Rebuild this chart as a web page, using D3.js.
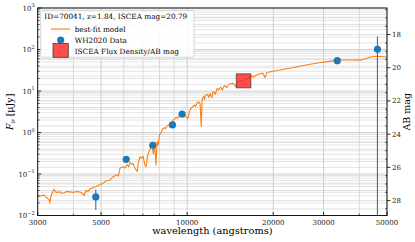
<!DOCTYPE html>
<html>
<head>
<meta charset="utf-8">
<script src="https://cdn.jsdelivr.net/npm/d3@7"></script>
<style>
  body { margin: 0; background: #fff; }
  svg { display: block; font-family: "DejaVu Serif", serif; }
</style>
</head>
<body>
<div id="chart"></div>
<script>
// best-fit model SED (wavelength in angstroms, flux in uJy)
const modelWave = [3000, 3080, 3156, 3220, 3286, 3310, 3339, 3421, 3480, 3592, 3650, 3700, 3780, 3891, 4000,
  4100, 4218, 4300, 4359, 4420, 4500, 4573, 4700, 4800, 4950, 5079, 5200, 5373, 5500, 5641, 5750, 5824,
  5968, 6060, 6163, 6240, 6313, 6400, 6469, 6560, 6679, 6760, 6842, 6930, 7011, 7100, 7183, 7270, 7360,
  7450, 7538, 7620, 7700, 7780, 7850, 7913, 8010, 8107, 8200, 8306, 8400, 8509, 8610, 8718, 8820, 8932,
  9040, 9151, 9260, 9375, 9490, 9605, 9720, 9842, 10000, 10081, 10200, 10327, 10450, 10580, 10700, 10840,
  10970, 11101, 11200, 11283, 11420, 11500, 11560, 11700, 11800, 11900, 12031, 12200, 12300, 12400, 12550,
  12729, 12900, 13100, 13290, 13400, 13575, 13750, 14000, 14200, 14483, 14800, 15000, 15324, 16000, 16879,
  17100, 17400, 17700, 18003, 18400, 18747, 19000, 19995, 21159, 23493, 25000, 26943, 29000, 30900, 33000,
  35167, 37500, 40326, 42000, 43712, 46238, 48539, 50000];
const modelFlux = [0.028, 0.030, 0.031, 0.027, 0.024, 0.020, 0.030, 0.043, 0.036, 0.037, 0.034, 0.035, 0.038,
  0.037, 0.036, 0.038, 0.037, 0.034, 0.030, 0.040, 0.038, 0.044, 0.047, 0.050, 0.055, 0.061, 0.068, 0.072,
  0.085, 0.095, 0.090, 0.14, 0.15, 0.14, 0.17, 0.15, 0.19, 0.17, 0.18, 0.14, 0.115, 0.20, 0.26, 0.24, 0.27,
  0.17, 0.15, 0.28, 0.35, 0.42, 0.46, 0.30, 0.55, 0.165, 0.60, 0.50, 0.90, 1.0, 1.2, 1.3, 1.25, 1.45, 1.5,
  1.6, 1.5, 2.0, 2.1, 2.3, 2.2, 2.5, 2.7, 2.9, 2.8, 2.6, 2.2, 2.3, 3.3, 3.9, 4.1, 4.6, 4.2, 5.2, 5.5, 4.8,
  1.4, 6.5, 7.3, 6.2, 7.8, 8.1, 8.3, 6.9, 8.7, 7.0, 9.3, 9.5, 8.4, 11.6, 10.6, 12.5, 10.5, 12.8, 13.5, 12.0,
  14.5, 15.0, 15.3, 12.8, 16.3, 17, 19, 23, 21.5, 24, 25, 26, 27, 21, 28, 30, 32, 37, 40, 44, 48, 51, 54,
  56, 56, 55.5, 60, 66, 69, 67, 65];

// WH2020 photometry
const dataWave = [4790, 6120, 7580, 8880, 9600, 33500, 46300];
const dataFlux = [0.028, 0.226, 0.49, 1.52, 2.79, 53.7, 101];
const dataErr = [0.0145, 0.02, 0.03, 0.08, 0.15, 3, 106];

// ISCEA point
const isceaWave = [15750];
const isceaMag = [20.79];

const xTicks = [3000, 5000, 10000, 20000, 30000, 50000];
const xMinorTicks = [4000, 6000, 7000, 8000, 9000, 40000];
const yTickExp = [-2, -1, 0, 1, 2, 3];
const magTicks = [18, 20, 22, 24, 26, 28];
const legendTitle = 'ID=70041, z=1.84, ISCEA mag=20.79';

const W = 415, H = 242;
const m = { left: 37.7, right: 387, top: 8, bottom: 215.5 };

const abToUJy = v => Math.pow(10, (23.9 - v) / 2.5);
const uJyToAb = f => 23.9 - 2.5 * Math.log10(f);

const x = d3.scaleLog().domain([3000, 50000]).range([m.left, m.right]);
const y = d3.scaleLog().domain([1e-2, 1e3]).range([m.bottom, m.top]);
const mag = d3.scaleLinear().domain([uJyToAb(1e-2), uJyToAb(1e3)]).range([m.bottom, m.top]);

const svg = d3.select('#chart').append('svg')
  .attr('width', W).attr('height', H);

svg.append('defs').append('clipPath').attr('id', 'plotClip')
  .append('rect').attr('x', m.left).attr('y', m.top)
  .attr('width', m.right - m.left).attr('height', m.bottom - m.top);

const grid = svg.append('g').attr('class', 'grid');

// horizontal grid: log minor ticks on the flux axis
const yMinor = [];
for (let e = -2; e < 3; e++) {
  for (let k = 2; k <= 9; k++) yMinor.push(k * Math.pow(10, e));
}
grid.selectAll('line.ymin').data(yMinor).enter().append('line')
  .attr('x1', m.left).attr('x2', m.right)
  .attr('y1', d => y(d)).attr('y2', d => y(d))
  .attr('stroke', '#dcdcdc').attr('stroke-width', 0.8);

// horizontal grid from the magnitude axis (every 0.5 mag)
const magGrid = d3.range(17, 28.9, 0.5);
grid.selectAll('line.mag').data(magGrid).enter().append('line')
  .attr('x1', m.left).attr('x2', m.right)
  .attr('y1', d => mag(d)).attr('y2', d => mag(d))
  .attr('stroke', '#dcdcdc').attr('stroke-width', 0.8);

grid.selectAll('line.ymaj').data(yTickExp).enter().append('line')
  .attr('x1', m.left).attr('x2', m.right)
  .attr('y1', d => y(Math.pow(10, d))).attr('y2', d => y(Math.pow(10, d)))
  .attr('stroke', '#c4c4c4').attr('stroke-width', 0.8);

grid.selectAll('line.xmin').data(xMinorTicks).enter().append('line')
  .attr('x1', d => x(d)).attr('x2', d => x(d))
  .attr('y1', m.top).attr('y2', m.bottom)
  .attr('stroke', '#d0d0d0').attr('stroke-width', 0.8);
grid.selectAll('line.xmaj').data(xTicks).enter().append('line')
  .attr('x1', d => x(d)).attr('x2', d => x(d))
  .attr('y1', m.top).attr('y2', m.bottom)
  .attr('stroke', '#c4c4c4').attr('stroke-width', 0.8);

const plot = svg.append('g').attr('clip-path', 'url(#plotClip)');

// model curve
const model = modelWave.map((w, i) => [w, modelFlux[i]]);
plot.append('path')
  .datum(model)
  .attr('fill', 'none')
  .attr('stroke', '#ff7f0e')
  .attr('stroke-width', 1.1)
  .attr('stroke-linejoin', 'round')
  .attr('d', d3.line().x(d => x(d[0])).y(d => y(d[1])));

// error bars
const pts = dataWave.map((w, i) => ({ w, f: dataFlux[i], e: dataErr[i] }));
plot.selectAll('line.err').data(pts).enter().append('line')
  .attr('x1', d => x(d.w)).attr('x2', d => x(d.w))
  .attr('y1', d => y(d.f + d.e))
  .attr('y2', d => (d.f - d.e) > 0 ? y(d.f - d.e) : m.bottom + 5)
  .attr('stroke', '#1f77b4').attr('stroke-width', 1.1);

plot.selectAll('circle.pt').data(pts).enter().append('circle')
  .attr('cx', d => x(d.w)).attr('cy', d => y(d.f))
  .attr('r', 3.6).attr('fill', '#1f77b4');

// ISCEA square
const iscea = isceaWave.map((w, i) => ({ w, f: abToUJy(isceaMag[i]) }));
plot.selectAll('rect.iscea').data(iscea).enter().append('rect')
  .attr('x', d => x(d.w) - 7.3).attr('y', d => y(d.f) - 7)
  .attr('width', 14.6).attr('height', 14)
  .attr('fill', '#ff2020').attr('fill-opacity', 0.8)
  .attr('stroke', '#444').attr('stroke-width', 0.8);

// frame
svg.append('rect').attr('x', m.left).attr('y', m.top)
  .attr('width', m.right - m.left).attr('height', m.bottom - m.top)
  .attr('fill', 'none').attr('stroke', '#000').attr('stroke-width', 0.9);

// x ticks
const axisG = svg.append('g');
axisG.selectAll('line.xt').data(xTicks).enter().append('line')
  .attr('x1', d => x(d)).attr('x2', d => x(d))
  .attr('y1', m.bottom).attr('y2', m.bottom - 3.5)
  .attr('stroke', '#000').attr('stroke-width', 0.8);
axisG.selectAll('line.xtm').data(xMinorTicks).enter().append('line')
  .attr('x1', d => x(d)).attr('x2', d => x(d))
  .attr('y1', m.bottom).attr('y2', m.bottom - 2)
  .attr('stroke', '#000').attr('stroke-width', 0.6);
axisG.selectAll('text.xl').data(xTicks).enter().append('text')
  .attr('x', d => x(d)).attr('y', m.bottom + 9)
  .attr('text-anchor', 'middle').attr('font-size', 7).attr('fill', '#222')
  .text(d => d);

// y ticks (flux)
axisG.selectAll('line.yt').data(yTickExp).enter().append('line')
  .attr('x1', m.left).attr('x2', m.left + 3.5)
  .attr('y1', d => y(Math.pow(10, d))).attr('y2', d => y(Math.pow(10, d)))
  .attr('stroke', '#000').attr('stroke-width', 0.8);
axisG.selectAll('line.ytm').data(yMinor).enter().append('line')
  .attr('x1', m.left).attr('x2', m.left + 2)
  .attr('y1', d => y(d)).attr('y2', d => y(d))
  .attr('stroke', '#000').attr('stroke-width', 0.6);
const yl = axisG.selectAll('text.yl').data(yTickExp).enter().append('text')
  .attr('x', m.left - 3).attr('y', d => y(Math.pow(10, d)) + 2.5)
  .attr('text-anchor', 'end').attr('font-size', 7).attr('fill', '#222');
yl.append('tspan').text('10');
yl.append('tspan').attr('dy', -3.5).attr('font-size', 5)
  .text(d => d < 0 ? '\u2212' + Math.abs(d) : d);

// right mag axis
const magMinor = d3.range(16.5, 28.9, 0.5).filter(v => !magTicks.includes(v));
axisG.selectAll('line.mt').data(magTicks).enter().append('line')
  .attr('x1', m.right).attr('x2', m.right + 3.5)
  .attr('y1', d => mag(d)).attr('y2', d => mag(d))
  .attr('stroke', '#000').attr('stroke-width', 0.8);
axisG.selectAll('line.mtm').data(magMinor).enter().append('line')
  .attr('x1', m.right - 2).attr('x2', m.right)
  .attr('y1', d => mag(d)).attr('y2', d => mag(d))
  .attr('stroke', '#000').attr('stroke-width', 0.6);
axisG.selectAll('text.ml').data(magTicks).enter().append('text')
  .attr('x', m.right + 5).attr('y', d => mag(d) + 2.5)
  .attr('font-size', 7).attr('fill', '#222')
  .text(d => d);

// axis labels
svg.append('text')
  .attr('x', (m.left + m.right) / 2).attr('y', 234)
  .attr('text-anchor', 'middle').attr('font-size', 9.8)
  .text('wavelength (angstroms)');

const ylab = svg.append('text')
  .attr('transform', `translate(13,${(m.top + m.bottom) / 2}) rotate(-90)`)
  .attr('text-anchor', 'middle').attr('font-size', 9.5);
ylab.append('tspan').attr('font-style', 'italic').text('F');
ylab.append('tspan').attr('font-size', 6.5).attr('dy', 2).attr('font-style', 'italic').text('\u03bd');
ylab.append('tspan').attr('dy', -2).text(' [\u03bcJy]');

svg.append('text')
  .attr('transform', `translate(410,${(m.top + m.bottom) / 2}) rotate(-90)`)
  .attr('text-anchor', 'middle').attr('font-size', 9.5)
  .text('AB mag');

// legend
const lg = svg.append('g');
lg.append('rect').attr('x', 40.7).attr('y', 10.7).attr('width', 153.3).attr('height', 46.6)
  .attr('rx', 2).attr('fill', '#fff').attr('fill-opacity', 0.85)
  .attr('stroke', '#ccc').attr('stroke-width', 0.8);
lg.append('text').attr('x', 44.3).attr('y', 19.3).attr('font-size', 7.3).text(legendTitle);
lg.append('line').attr('x1', 51).attr('x2', 70).attr('y1', 29).attr('y2', 29)
  .attr('stroke', '#ff7f0e').attr('stroke-width', 1.1);
lg.append('text').attr('x', 74.7).attr('y', 31.6).attr('font-size', 7.3).text('best-fit model');
lg.append('circle').attr('cx', 60.7).attr('cy', 40).attr('r', 3.6).attr('fill', '#1f77b4');
lg.append('text').attr('x', 74.7).attr('y', 42.8).attr('font-size', 7.3).text('WH2020 Data');
lg.append('rect').attr('x', 53).attr('y', 43.5).attr('width', 15.3).attr('height', 13.8)
  .attr('fill', '#ff2020').attr('fill-opacity', 0.8)
  .attr('stroke', '#444').attr('stroke-width', 0.8);
lg.append('text').attr('x', 74.7).attr('y', 54.2).attr('font-size', 7.3).text('ISCEA Flux Density/AB mag');
</script>
</body>
</html>
